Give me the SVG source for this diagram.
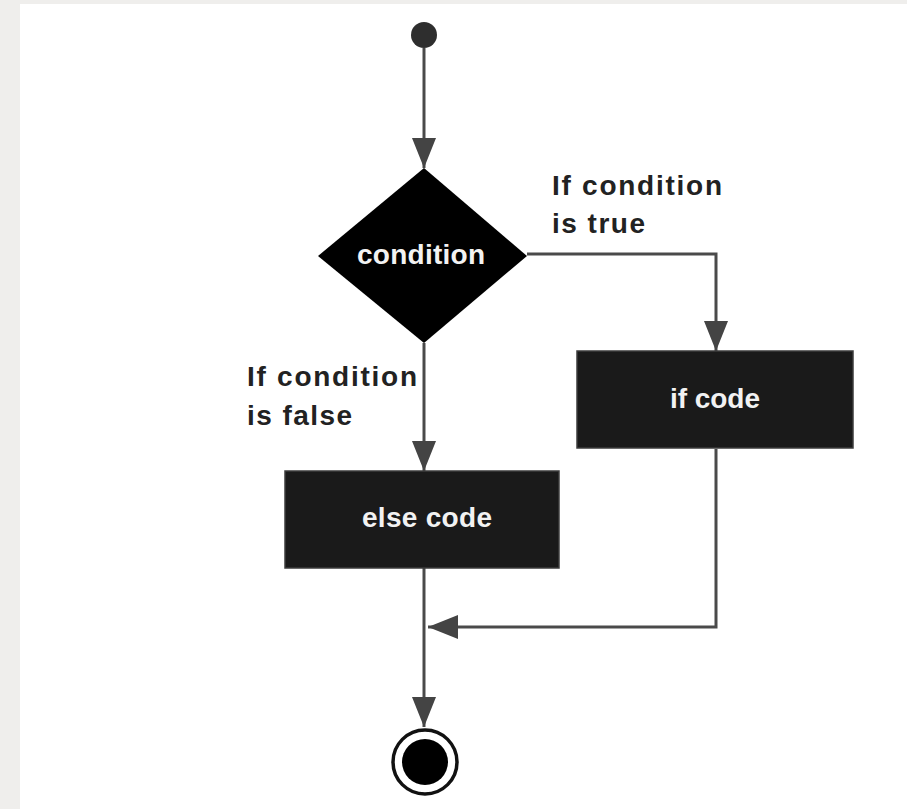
<svg xmlns="http://www.w3.org/2000/svg" width="907" height="809" viewBox="0 0 907 809">
<style>
.conn{fill:none;stroke:#4a4a4a;stroke-width:3}
.lbl{font-family:"Liberation Sans",Arial,sans-serif;font-weight:bold;font-size:28px;fill:#222}
.ntxt{font-family:"Liberation Sans",Arial,sans-serif;font-weight:bold;font-size:28px;fill:#f2f2f2;text-anchor:middle}
.box{fill:#1a1a1a;stroke:#3c3c3c;stroke-width:1.5}
</style>
<defs>
<marker id="arr" viewBox="0 0 30 24" refX="30" refY="12" markerWidth="30" markerHeight="24" markerUnits="userSpaceOnUse" orient="auto">
<path d="M0,0 L30,12 L0,24 z" fill="#444"/>
</marker>
</defs>
<rect x="0" y="0" width="907" height="809" fill="#efeeec"/>
<rect x="20" y="4" width="887" height="805" fill="#ffffff"/>
<g id="connectors">
<path class="conn" d="M424,48 L424,168" marker-end="url(#arr)"/>
<path class="conn" d="M527,254 L716,254 L716,351" marker-end="url(#arr)"/>
<path class="conn" d="M424,343 L424,471" marker-end="url(#arr)"/>
<path class="conn" d="M424,568 L424,727" marker-end="url(#arr)"/>
<path class="conn" d="M716,449 L716,627 L428,627" marker-end="url(#arr)"/>
</g>
<g id="labels">
<text class="lbl" x="552" y="195" textLength="170" lengthAdjust="spacing">If condition</text>
<text class="lbl" x="552" y="233" textLength="93" lengthAdjust="spacing">is true</text>
<text class="lbl" x="247" y="386" textLength="170" lengthAdjust="spacing">If condition</text>
<text class="lbl" x="247" y="425" textLength="105" lengthAdjust="spacing">is false</text>
</g>
<g id="start">
<circle cx="424" cy="35" r="13" fill="#2e2e2e"/>
</g>
<g id="condition">
<polygon points="424,168 527,256 424,343 318,256" fill="#000"/>
<text class="ntxt" x="421" y="264" textLength="128" lengthAdjust="spacing">condition</text>
</g>
<g id="ifcode">
<rect class="box" x="577" y="351" width="276" height="97"/>
<text class="ntxt" x="715" y="408" textLength="90" lengthAdjust="spacing">if code</text>
</g>
<g id="elsecode">
<rect class="box" x="285" y="471" width="274" height="97"/>
<text class="ntxt" x="427" y="527" textLength="130" lengthAdjust="spacing">else code</text>
</g>
<g id="end">
<circle cx="425" cy="762" r="32" fill="#fff" stroke="#111" stroke-width="3.5"/>
<circle cx="425" cy="762" r="23" fill="#000"/>
</g>
</svg>
